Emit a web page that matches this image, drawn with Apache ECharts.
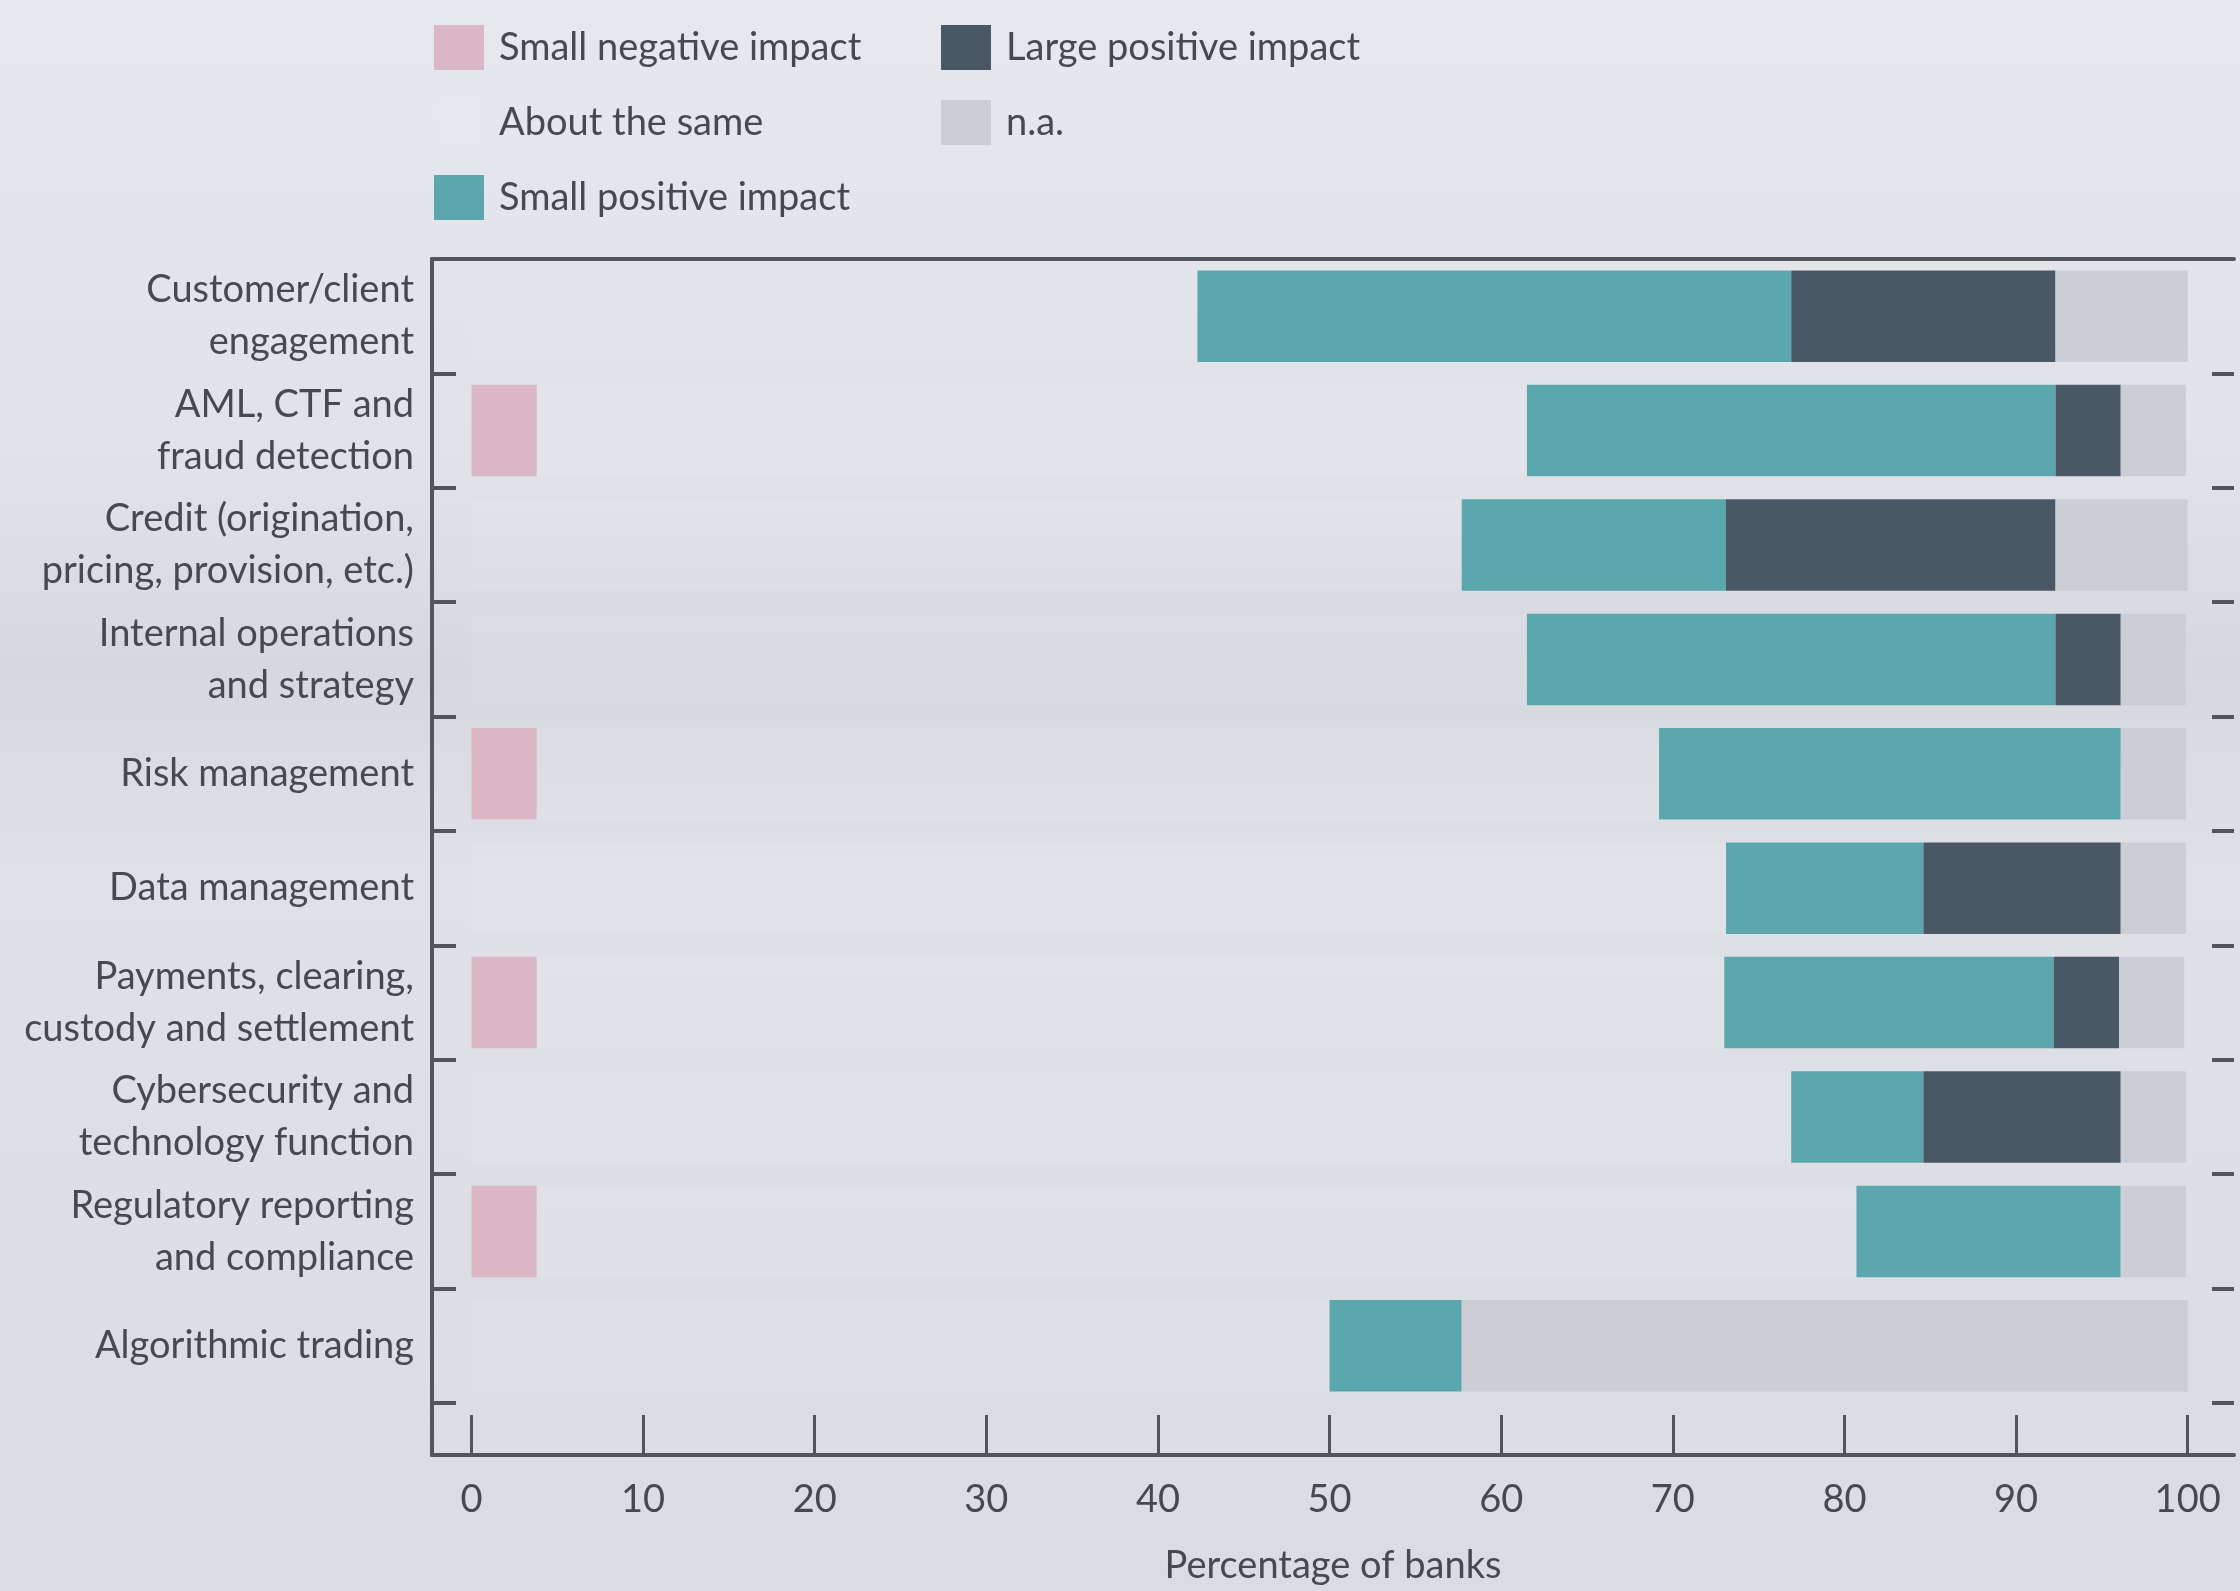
<!DOCTYPE html>
<html>
<head>
<meta charset="utf-8">
<title>Impact of AI by business area</title>
<script src="https://cdn.jsdelivr.net/npm/echarts@6/dist/echarts.min.js"></script>
<style>
  html, body { margin: 0; padding: 0; background: #dfe1e7; }
  #chart { width: 2240px; height: 1591px; }
</style>
</head>
<body>
<div id="chart"></div>
<script>
// Business areas, top to bottom
const categories = [
  'Customer/client\nengagement',
  'AML, CTF and\nfraud detection',
  'Credit (origination,\npricing, provision, etc.)',
  'Internal operations\nand strategy',
  'Risk management',
  'Data management',
  'Payments, clearing,\ncustody and settlement',
  'Cybersecurity and\ntechnology function',
  'Regulatory reporting\nand compliance',
  'Algorithmic trading'
];

// Share of banks (%) per answer
const smallNegative = [0, 3.8, 0, 0, 3.8, 0, 3.8, 0, 3.8, 0];
const aboutSame     = [42.3, 57.7, 57.7, 61.5, 65.4, 73.1, 69.2, 76.9, 76.9, 50.0];
const smallPositive = [34.6, 30.8, 15.4, 30.8, 26.9, 11.5, 19.2, 7.7, 15.4, 7.7];
const largePositive = [15.4, 3.8, 19.2, 3.8, 0, 11.5, 3.8, 11.5, 0, 0];
const notApplicable = [7.7, 3.8, 7.7, 3.8, 3.8, 3.8, 3.8, 3.8, 3.8, 42.3];

const xTicks = [0, 10, 20, 30, 40, 50, 60, 70, 80, 90, 100];

const seriesNames = [
  'Small negative impact',
  'About the same',
  'Small positive impact',
  'Large positive impact',
  'n.a.'
];

const FONT = 'Lato, Roboto, "Noto Sans", sans-serif';
const INK = '#464950';
const LINE = '#52555c';

const colors = {
  'Small negative impact': '#dcb7c6',
  'About the same': 'rgba(242,244,248,0.1)',
  'Small positive impact': '#5ca7ad',
  'Large positive impact': '#4a5865',
  'n.a.': '#cbced5'
};

const seriesData = [smallNegative, aboutSame, smallPositive, largePositive, notApplicable];

const chart = echarts.init(document.getElementById('chart'), null, { renderer: 'canvas' });

const X_MIN = -2.3, X_MAX = 102.7;

const legendCommon = {
  orient: 'vertical',
  top: 20,
  itemWidth: 50, itemHeight: 45, itemGap: 30,
  icon: 'rect',
  selectedMode: false,
  textStyle: { fontFamily: FONT, fontSize: 38, color: INK, padding: [0, 0, 0, 10] }
};

chart.setOption({
  backgroundColor: {
    type: 'linear', x: 0, y: 0, x2: 0, y2: 1,
    colorStops: [
      { offset: 0, color: '#e6e8ed' },
      { offset: 0.3, color: '#e0e2e8' },
      { offset: 0.42, color: '#d6d8df' },
      { offset: 0.55, color: '#dfe1e7' },
      { offset: 1, color: '#dadce3' }
    ]
  },
  textStyle: { fontFamily: FONT, color: INK },
  legend: [
    Object.assign({ data: seriesNames.slice(0, 3), left: 429 }, legendCommon),
    Object.assign({ data: seriesNames.slice(3), left: 936 }, legendCommon)
  ],
  grid: [
    { left: 432, right: 6, top: 259, height: 1144, outerBoundsMode: 'none' },
    { left: 432, right: 6, top: 1403, height: 52, outerBoundsMode: 'none' }
  ],
  xAxis: [
    {
      gridIndex: 0, type: 'value', position: 'top',
      min: X_MIN, max: X_MAX,
      axisLine: { show: true, onZero: false, lineStyle: { color: LINE, width: 4 } },
      axisTick: { show: false },
      axisLabel: { show: false },
      splitLine: { show: false }
    },
    {
      gridIndex: 1, type: 'value', position: 'bottom',
      min: X_MIN, max: X_MAX,
      axisLine: { show: true, onZero: false, lineStyle: { color: LINE, width: 4 } },
      axisTick: {
        show: true, inside: true, length: 40, customValues: xTicks,
        lineStyle: { color: LINE, width: 3 }
      },
      axisLabel: {
        show: true, customValues: xTicks, margin: 26,
        fontFamily: FONT, fontSize: 38, color: INK
      },
      splitLine: { show: false },
      name: 'Percentage of banks',
      nameLocation: 'middle',
      nameGap: 92,
      nameTextStyle: { fontFamily: FONT, fontSize: 38, color: INK }
    }
  ],
  yAxis: [
    {
      gridIndex: 0, type: 'category', data: categories, inverse: true,
      position: 'left',
      axisLine: { show: true, onZero: false, lineStyle: { color: LINE, width: 4 } },
      axisTick: { show: true, inside: true, length: 24, lineStyle: { color: LINE, width: 4 } },
      axisLabel: {
        margin: 18, fontFamily: FONT, fontSize: 38, lineHeight: 52, color: INK, align: 'right'
      },
      splitLine: { show: false }
    },
    {
      gridIndex: 0, type: 'category', data: categories, inverse: true,
      position: 'right',
      axisLine: { show: false, onZero: false },
      axisTick: { show: true, inside: true, length: 22, lineStyle: { color: LINE, width: 4 } },
      axisLabel: { show: false },
      splitLine: { show: false }
    },
    {
      gridIndex: 1, type: 'value', position: 'left',
      axisLine: { show: true, onZero: false, lineStyle: { color: LINE, width: 4 } },
      axisTick: { show: false },
      axisLabel: { show: false },
      splitLine: { show: false }
    }
  ],
  series: seriesNames.map((name, i) => ({
    name,
    type: 'bar',
    stack: 'share',
    xAxisIndex: 0,
    yAxisIndex: 0,
    barCategoryGap: '20%',
    itemStyle: { color: colors[name] },
    emphasis: { disabled: true },
    data: seriesData[i]
  })),
  animation: false
});
</script>
</body>
</html>
